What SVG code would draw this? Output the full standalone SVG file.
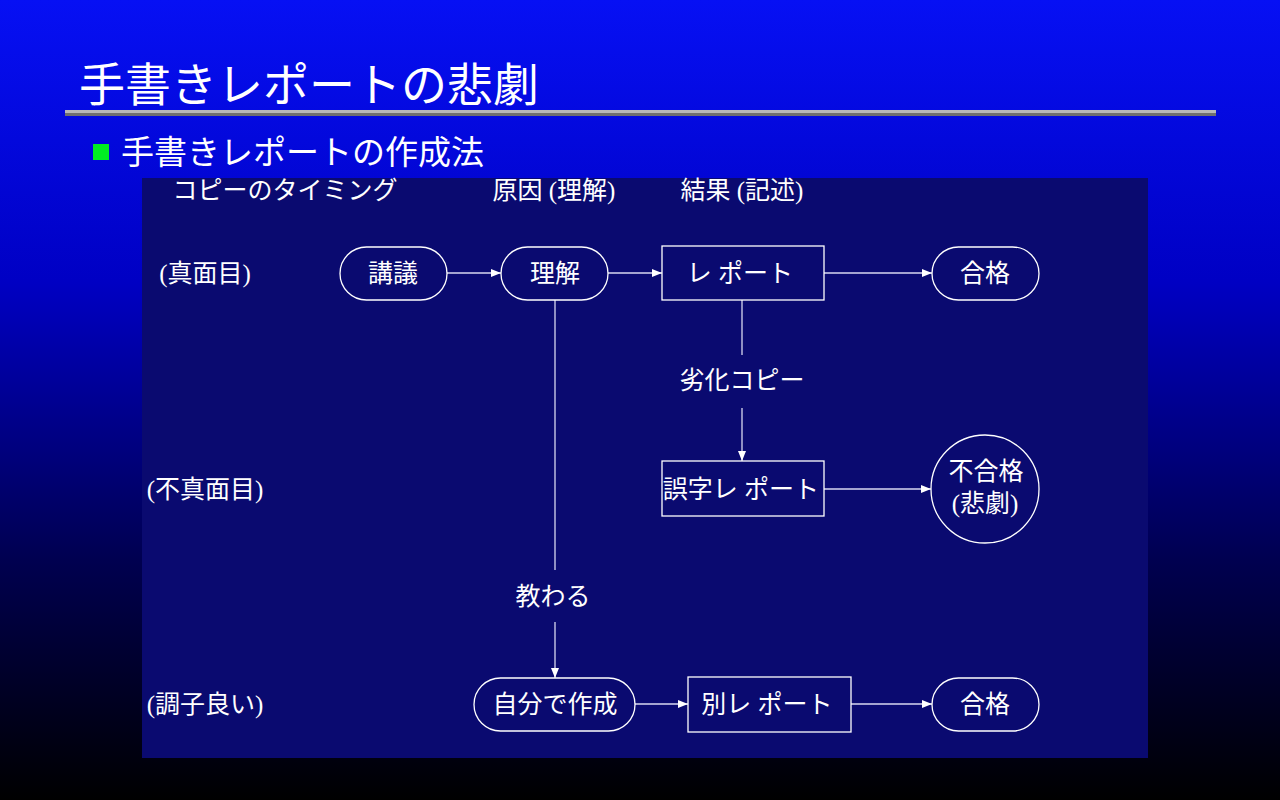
<svg xmlns="http://www.w3.org/2000/svg" width="1280" height="800" viewBox="0 0 1280 800">
<defs>
<linearGradient id="bg" x1="0" y1="0" x2="0" y2="1">
<stop offset="0" stop-color="#0610f4"/>
<stop offset="0.35" stop-color="#0000c4"/>
<stop offset="0.7" stop-color="#000050"/>
<stop offset="1" stop-color="#000000"/>
</linearGradient>
<marker id="ah" viewBox="0 0 10 8" refX="10" refY="4" markerWidth="10" markerHeight="8" markerUnits="userSpaceOnUse" orient="auto">
<path d="M0,0 L10,4 L0,8 z" fill="#ffffff"/>
</marker>
<style>
.shape{fill:none;stroke:#ffffff;stroke-width:1.3}
.conn{fill:none;stroke:#d8d8f0;stroke-width:1.3}
.t{fill:#ffffff;font-family:"Liberation Serif","Noto Sans CJK JP",serif;font-size:25px;text-anchor:middle;dominant-baseline:central}
.title{fill:#ffffff;font-family:"Noto Sans CJK JP",sans-serif}
</style>
</defs>
<rect x="0" y="0" width="1280" height="800" fill="url(#bg)"/>
<g id="title">
<text class="title" x="79" y="101" font-size="46">手書きレポートの悲劇</text>
<rect x="65" y="110" width="1151" height="3" fill="#b8b8b8"/>
<rect x="65" y="113" width="1151" height="3" fill="#707070"/>
<rect x="93" y="144" width="16" height="16" fill="#00ee22"/>
<text class="title" x="121" y="164" font-size="33">手書きレポートの作成法</text>
</g>
<rect id="panel" x="142" y="178" width="1006" height="580" fill="#0a0a70"/>
<g id="headers">
<text class="t" x="285" y="190">コピーのタイミング</text>
<text class="t" x="554" y="190">原因 (理解)</text>
<text class="t" x="742" y="190">結果 (記述)</text>
<text class="t" x="205" y="273">(真面目)</text>
<text class="t" x="205" y="489">(不真面目)</text>
<text class="t" x="205" y="704">(調子良い)</text>
</g>
<g id="connectors">
<line class="conn" x1="447" y1="273" x2="501" y2="273" marker-end="url(#ah)"/>
<line class="conn" x1="608" y1="273" x2="662" y2="273" marker-end="url(#ah)"/>
<line class="conn" x1="824" y1="273" x2="932" y2="273" marker-end="url(#ah)"/>
<line class="conn" x1="742" y1="300" x2="742" y2="355"/>
<text class="t" x="742" y="380">劣化コピー</text>
<line class="conn" x1="742" y1="408" x2="742" y2="461" marker-end="url(#ah)"/>
<line class="conn" x1="824" y1="489" x2="931" y2="489" marker-end="url(#ah)"/>
<line class="conn" x1="555" y1="300" x2="555" y2="570"/>
<text class="t" x="553" y="596">教わる</text>
<line class="conn" x1="555" y1="622" x2="555" y2="678" marker-end="url(#ah)"/>
<line class="conn" x1="635" y1="704" x2="688" y2="704" marker-end="url(#ah)"/>
<line class="conn" x1="851" y1="704" x2="932" y2="704" marker-end="url(#ah)"/>
</g>
<g id="n_kougi"><rect class="shape" x="340" y="247" width="107" height="53" rx="26.5"/><text class="t" x="393" y="273">講議</text></g>
<g id="n_rikai"><rect class="shape" x="501" y="247" width="107" height="53" rx="26.5"/><text class="t" x="555" y="273">理解</text></g>
<g id="n_report"><rect class="shape" x="662" y="246" width="162" height="54"/><text class="t" x="740" y="273">レ ポート</text></g>
<g id="n_goukaku1"><rect class="shape" x="932" y="247" width="107" height="53" rx="26.5"/><text class="t" x="985" y="273">合格</text></g>
<g id="n_goji"><rect class="shape" x="662" y="461" width="162" height="55"/><text class="t" x="741" y="489">誤字レ ポート</text></g>
<g id="n_fugoukaku"><circle class="shape" cx="985" cy="489" r="54"/><text class="t" x="986" y="471">不合格</text><text class="t" x="985" y="503">(悲劇)</text></g>
<g id="n_jibun"><rect class="shape" x="474" y="678" width="161" height="53" rx="26.5"/><text class="t" x="555" y="704">自分で作成</text></g>
<g id="n_betsu"><rect class="shape" x="688" y="677" width="163" height="55"/><text class="t" x="767" y="704">別レ ポート</text></g>
<g id="n_goukaku2"><rect class="shape" x="932" y="678" width="107" height="53" rx="26.5"/><text class="t" x="985" y="704">合格</text></g>
</svg>
